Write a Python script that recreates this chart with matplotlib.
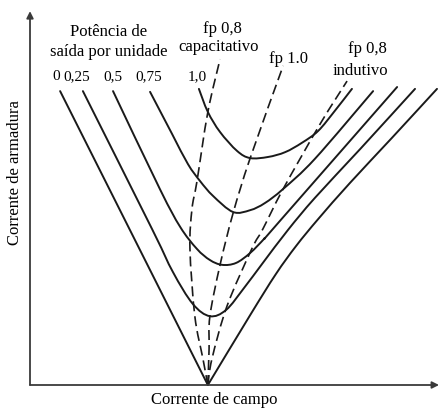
import numpy as np
import matplotlib
matplotlib.use("Agg")
import matplotlib.pyplot as plt
from matplotlib.path import Path
from matplotlib.patches import PathPatch

plt.rcParams['font.family'] = ['Liberation Serif', 'DejaVu Serif']

# curvas V (corrente de campo, corrente de armadura), unidades arbitrarias
# P = 0 e um V de duas retas, os dois ramos ficam separados
p0_left_x = [0.74, 4.37]
p0_left_y = [7.90, 0.00]
p0_right_x = [4.37, 5.41, 6.04, 6.54, 7.08, 7.86, 8.89, 10.0]
p0_right_y = [0.00, 1.88, 2.98, 3.74, 4.46, 5.43, 6.64, 7.96]

p025_x = [1.30, 3.00, 3.51, 4.00, 4.42, 4.82, 5.26, 5.72, 6.34, 7.00, 8.11, 9.46]
p025_y = [7.90, 4.19, 3.04, 2.18, 1.85, 2.02, 2.61, 3.28, 4.17, 5.03, 6.34, 7.96]

p05_x = [2.04, 3.19, 3.69, 4.10, 4.42, 4.72, 5.06, 5.41, 5.77, 6.14, 9.02]
p05_y = [7.90, 5.27, 4.25, 3.66, 3.36, 3.23, 3.28, 3.55, 3.95, 4.41, 8.01]

p075_x = [2.95, 3.49, 3.88, 4.18, 4.50, 4.99, 5.41, 5.77, 6.22, 7.00, 8.43]
p075_y = [7.88, 6.75, 5.94, 5.48, 5.08, 4.65, 4.70, 4.89, 5.27, 6.08, 7.90]

p10_x = [4.15, 4.37, 4.67, 5.09, 5.41, 5.85, 6.27, 6.68, 7.08, 7.49, 7.91]
p10_y = [7.96, 7.34, 6.80, 6.29, 6.10, 6.13, 6.26, 6.51, 6.83, 7.37, 7.96]

# linhas de fator de potencia
cap_x = [4.37, 4.25, 4.05, 3.93, 3.98, 4.10, 4.37, 4.67]
cap_y = [0.00, 0.70, 1.85, 3.66, 4.73, 5.46, 7.34, 8.76]

fp1_x = [4.37, 4.40, 4.42, 4.67, 4.99, 5.41, 6.22]
fp1_y = [0.00, 0.97, 1.85, 3.23, 4.62, 6.10, 8.58]

ind_x = [4.37, 4.47, 4.84, 5.45, 5.72, 6.22, 7.13, 7.79]
ind_y = [0.00, 0.70, 2.12, 3.66, 4.19, 5.27, 7.02, 8.17]

power_labels = ['0', '0,25', '0,5', '0,75', '1,0']
power_label_x = [0.64, 1.15, 2.04, 2.92, 4.10]


def smooth_path(xs, ys):
    # bezier cubica passando pelos pontos lidos (catmull-rom)
    pts = np.column_stack([xs, ys]).astype(float)
    if len(pts) < 3:
        return Path(pts)
    ext = np.vstack([pts[0], pts, pts[-1]])
    verts = [pts[0]]
    codes = [Path.MOVETO]
    for i in range(1, len(ext) - 2):
        p0, p1, p2, p3 = ext[i - 1], ext[i], ext[i + 1], ext[i + 2]
        verts += [p1 + (p2 - p0) / 6, p2 - (p3 - p1) / 6, p2]
        codes += [Path.CURVE4] * 3
    return Path(verts, codes)


fig = plt.figure(figsize=(4.39, 4.10), dpi=100)
ax = fig.add_axes([30 / 439, 1 - 386 / 410, 407 / 439, 372 / 410])
ax.set_xlim(0, 10)
ax.set_ylim(0, 10)
ax.axis('off')

for xs, ys in [(p0_left_x, p0_left_y), (p0_right_x, p0_right_y),
               (p025_x, p025_y), (p05_x, p05_y),
               (p075_x, p075_y), (p10_x, p10_y)]:
    ax.add_patch(PathPatch(smooth_path(xs, ys), fill=False, ec='#1a1a1a',
                           lw=1.4, capstyle='round', clip_on=False))

for xs, ys in [(cap_x, cap_y), (fp1_x, fp1_y), (ind_x, ind_y)]:
    ax.add_patch(PathPatch(smooth_path(xs, ys), fill=False, ec='#1a1a1a',
                           lw=1.2, linestyle=(0, (6, 3)), clip_on=False))

# eixos com setas
arrow = dict(arrowstyle='-|>', color='#3a3a3a', lw=1.3,
             mutation_scale=10, shrinkA=0, shrinkB=0)
ax.annotate('', xy=(0, 10.05), xytext=(0, 0), arrowprops=arrow,
            annotation_clip=False)
ax.annotate('', xy=(10.05, 0), xytext=(0, 0), arrowprops=arrow,
            annotation_clip=False)

fs = 12
ax.text(1.92, 9.52, 'Potência de', ha='center', va='center', fontsize=fs)
ax.text(1.94, 8.98, 'saída por unidade', ha='center', va='center', fontsize=fs)
for lab, xp in zip(power_labels, power_label_x):
    ax.text(xp, 8.31, lab, ha='center', va='center', fontsize=11)

ax.text(4.72, 9.60, 'fp 0,8', ha='center', va='center', fontsize=fs)
ax.text(4.64, 9.11, 'capacitativo', ha='center', va='center', fontsize=fs)
ax.text(6.34, 8.79, 'fp 1.0', ha='center', va='center', fontsize=fs)
ax.text(8.28, 9.06, 'fp 0,8', ha='center', va='center', fontsize=fs)
ax.text(8.13, 8.47, 'indutivo', ha='center', va='center', fontsize=fs)

fig.text(214 / 439, 1 - 400 / 410, 'Corrente de campo', ha='center',
         va='center', fontsize=fs)
fig.text(15 / 439, 1 - 173 / 410, 'Corrente de armadura', ha='center',
         va='center', rotation=90, fontsize=fs)

fig.savefig('out.png', dpi=100)
